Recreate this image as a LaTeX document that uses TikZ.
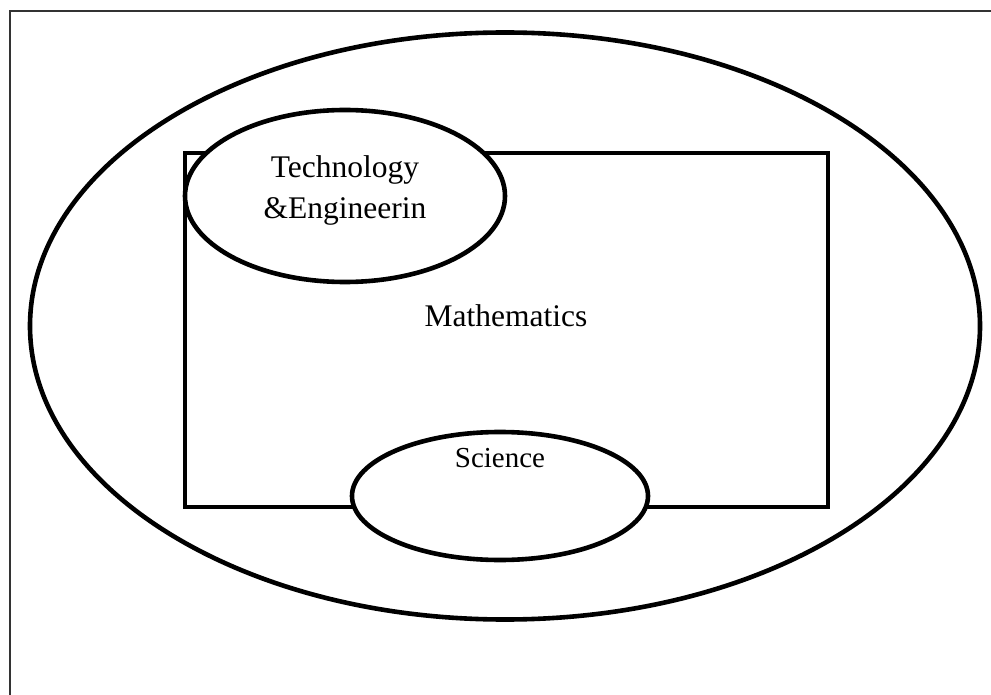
\documentclass[tikz,border=0pt]{standalone}
\usepackage{fontspec}
\setmainfont{Liberation Serif}
\usetikzlibrary{shapes.geometric}

\begin{document}
\begin{tikzpicture}[
    x=1pt, y=-1pt,
    field/.style={draw, ellipse, line width=4.6pt, fill=white, inner sep=0pt},
    area/.style={draw, line width=4.4pt, inner sep=0pt},
    lbl/.style={inner sep=0pt, align=center, font=\fontsize{31.5}{41}\selectfont},
]
    \useasboundingbox (0,0) rectangle (991,695);
    \fill[white] (0,0) rectangle (991,695);
    % page frame
    \draw[line width=1.5pt, black!80] (10,720) -- (10,11) -- (1010,11);

    \node[field, minimum width=950pt, minimum height=587pt] (stem) at (505,326) {};
    \node[area, minimum width=643pt, minimum height=354pt] (math) at (506.5,330) {};
    \node[lbl, anchor=base] (mathtxt) at (506,326) {Mathematics};

    \node[field, minimum width=320pt, minimum height=172pt] (tech) at (345,196) {};
    \node[lbl] (techtxt) at (345,190.3) {Technology\\\&Engineerin};

    \node[field, minimum width=296pt, minimum height=128pt] (sci) at (500,496) {};
    \node[lbl, anchor=base, font=\fontsize{29}{35}\selectfont] (scitxt) at (500,467) {Science};
\end{tikzpicture}
\end{document}
